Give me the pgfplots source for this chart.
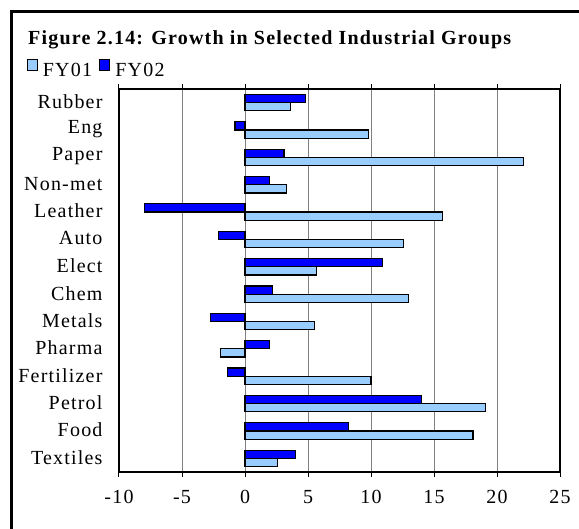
\documentclass[border=0pt]{standalone}
\usepackage{fontspec}
\setmainfont{Liberation Serif}[LetterSpace=6]
\usepackage{pgfplots}
\usepackage{pgfplotstable}
\pgfplotsset{compat=1.18}

\definecolor{fyone}{RGB}{153,204,255}
\definecolor{fytwo}{RGB}{0,0,255}
\definecolor{gridgray}{RGB}{128,128,128}

% rows from bottom (Textiles) to top (Rubber)
\pgfplotstableread{
y FY01 FY02
0 2.6 4.0
1 18.1 8.2
2 19.1 14.0
3 10.0 -1.4
4 -1.95 1.95
5 5.5 -2.75
6 13.0 2.2
7 5.65 10.9
8 12.6 -2.1
9 15.7 -7.95
10 3.3 1.95
11 22.1 3.1
12 9.8 -0.8
13 3.6 4.8
}\growth

\begin{document}
\begin{tikzpicture}
  \useasboundingbox (0,0) rectangle (579pt,529pt);
  % outer frame (only left and top edge visible)
  \draw[line width=2.5pt] (11.5pt,-10pt) -- (11.5pt,517.5pt) -- (600pt,517.5pt);
  \node[anchor=base west, inner sep=0pt, font=\bfseries\fontsize{20}{22}\selectfont]
    at (28pt,484pt) {Figure 2.14: Growth in Selected Industrial Groups};
  \begin{axis}[
      at={(119pt,57pt)}, anchor=south west,
      scale only axis, width=441pt, height=383pt,
      xbar, bar width=0.3,
      xmin=-10, xmax=25, ymin=-0.5, ymax=13.5,
      xtick={-10,-5,...,25},
      xticklabels={-10,-5,0,5,10,15,20,25},
      ytick={0,...,13},
      yticklabels={Textiles,Food,Petrol,Fertilizer,Pharma,Metals,Chem,Elect,Auto,Leather,Non-met,Paper,Eng,Rubber},
      xmajorgrids,
      major grid style={gridgray, line width=1pt},
      axis line style={line width=1.5pt},
      tick align=outside,
      xtick style={black, line width=1pt},
      major tick length=5pt,
      ytick style={draw=none},
      yticklabel style={xshift=-8pt, yshift=1pt},
      xticklabel style={yshift=-10pt},
      font=\fontsize{20}{22}\selectfont,
      legend columns=2,
      legend style={at={(-0.21,1.08)}, anchor=north west, draw=none, fill=none,
        inner sep=0pt, font=\fontsize{20}{22}\selectfont,
        /tikz/every odd column/.append style={column sep=3pt},
        /tikz/every even column/.append style={column sep=5pt}},
    ]
    \addplot[fill=fyone, draw=black, line width=1.2pt, bar shift=-0.15,
      legend image code/.code={\draw[fill=fyone, draw=black, line width=1.3pt] (0pt,0.5pt) rectangle (10pt,11.5pt);}]
      table[x=FY01, y=y] {\growth};
    \addplot[fill=fytwo, draw=black, line width=1.2pt, bar shift=0.15,
      legend image code/.code={\draw[fill=fytwo, draw=black, line width=1.3pt] (0pt,0.5pt) rectangle (10pt,11.5pt);}]
      table[x=FY02, y=y] {\growth};
    \legend{FY01,FY02}
  \end{axis}
\end{tikzpicture}
\end{document}
